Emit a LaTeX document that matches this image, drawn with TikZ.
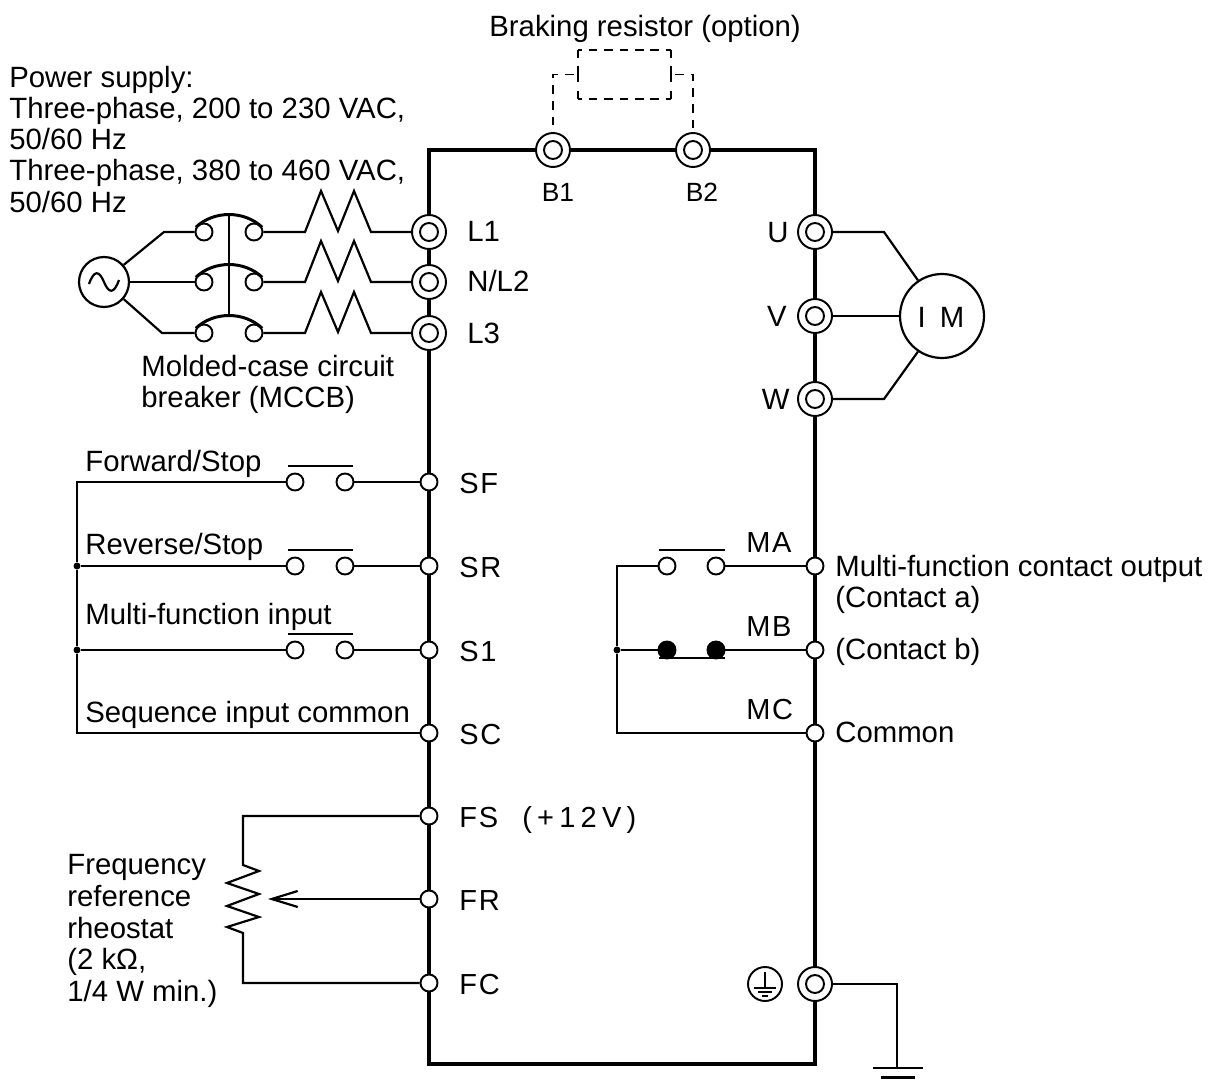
\documentclass[tikz,border=0pt]{standalone}
\usepackage{fontspec}
\setmainfont{Liberation Sans}
\newfontfamily\lblfont[LetterSpace=6]{Liberation Sans}
\newfontfamily\widefont[LetterSpace=18]{Liberation Sans}
\usetikzlibrary{arrows.meta}
\tikzset{
  wire/.style={line width=1.25pt},
  frameline/.style={line width=2.3pt},
  dashwire/.style={line width=1.1pt,dash pattern=on 5pt off 4pt,dash phase=7pt},
  dashtop/.style={line width=1.1pt,dash pattern=on 5pt off 3.78pt,dash phase=2.5pt},
  dashside/.style={line width=1.1pt,dash pattern=on 9pt off 4.9pt,dash phase=4.5pt},
  bigterm/.style={circle,draw,fill=white,line width=1.1pt,minimum size=0.68cm,inner sep=0pt,
    path picture={\draw[line width=1.1pt] (path picture bounding box.center) circle (0.18cm);}},
  smallterm/.style={circle,draw,fill=white,line width=1.1pt,minimum size=0.34cm,inner sep=0pt},
  contact/.style={smallterm},
  closedcontact/.style={smallterm,fill=black},
  junction/.style={circle,fill=black,minimum size=0.14cm,inner sep=0pt},
  txt/.style={inner sep=0pt,align=left,anchor=north west,font=\fontsize{16.7}{17.7}\selectfont},
  tag/.style={inner sep=0pt,anchor=base west,font=\fontsize{16.7}{17.7}\selectfont},
  lbl/.style={inner sep=0pt,anchor=base west,font=\fontsize{16.5}{17.7}\lblfont},
}
\begin{document}
\begin{tikzpicture}[x=0.02cm,y=-0.02cm]
  \useasboundingbox (0,0) rectangle (1213,1081);

  % terminals of the inverter
  \node[bigterm] (B1) at (553,150) {};
  \node[bigterm] (B2) at (693,150) {};
  \node[bigterm] (L1) at (429,232) {};
  \node[bigterm] (L2) at (429,282) {};
  \node[bigterm] (L3) at (429,333) {};
  \node[bigterm] (U) at (815,232) {};
  \node[bigterm] (V) at (815,316) {};
  \node[bigterm] (W) at (815,399) {};
  \node[bigterm] (GND) at (815,984) {};
  \node[smallterm] (SF) at (429,482) {};
  \node[smallterm] (SR) at (429,566) {};
  \node[smallterm] (S1) at (429,650) {};
  \node[smallterm] (SC) at (429,733) {};
  \node[smallterm] (FS) at (429,816) {};
  \node[smallterm] (FR) at (429,899) {};
  \node[smallterm] (FC) at (429,983) {};
  \node[smallterm] (MA) at (815,566) {};
  \node[smallterm] (MB) at (815,650) {};
  \node[smallterm] (MC) at (815,733) {};

  \coordinate (ctl) at (429,150);
  \coordinate (ctr) at (815,150);
  \coordinate (cbl) at (429,1064);
  \coordinate (cbr) at (815,1064);
  \draw[frameline,line join=miter] (L1) -- (ctl) -- (B1);
  \draw[frameline] (B1) -- (B2);
  \draw[frameline] (B2) -- (ctr) -- (U);
  \draw[frameline] (U) -- (V);
  \draw[frameline] (V) -- (W);
  \draw[frameline] (W) -- (MA);
  \draw[frameline] (MA) -- (MB);
  \draw[frameline] (MB) -- (MC);
  \draw[frameline] (MC) -- (GND);
  \draw[frameline] (GND) -- (cbr) -- (cbl) -- (FC);
  \draw[frameline] (FC) -- (FR);
  \draw[frameline] (FR) -- (FS);
  \draw[frameline] (FS) -- (SC);
  \draw[frameline] (SC) -- (S1);
  \draw[frameline] (S1) -- (SR);
  \draw[frameline] (SR) -- (SF);
  \draw[frameline] (SF) -- (L3);
  \draw[frameline] (L3) -- (L2);
  \draw[frameline] (L2) -- (L1);

  % braking resistor
  \node[minimum width=1.86cm,minimum height=0.98cm,inner sep=0pt] (brk) at (624.5,74.5) {};
  \draw[dashtop] (brk.north west) -- (brk.north east);
  \draw[dashtop] (brk.south west) -- (brk.south east);
  \draw[dashside] (brk.north west) -- (brk.south west);
  \draw[dashside] (brk.north east) -- (brk.south east);
  \draw[dashwire] (brk.west) -| (B1.north);
  \draw[dashwire] (brk.east) -| (B2.north);

  % supply and breaker
  \node[circle,draw,wire,minimum size=1cm,inner sep=0pt] (src) at (104,282) {};
  \draw[wire] (src.center) ++(-15,2) .. controls +(5,-14) and +(-5,-12) .. ++(15,-2)
    .. controls +(5,12) and +(-5,14) .. ++(15,-2);
  \node[contact] (m1l) at (204,232) {};
  \node[contact] (m1r) at (254,232) {};
  \node[contact] (m2l) at (204,282) {};
  \node[contact] (m2r) at (254,282) {};
  \node[contact] (m3l) at (204,333) {};
  \node[contact] (m3r) at (254,333) {};
  \coordinate (s1) at (164,232);
  \coordinate (s3) at (162,333);
  \draw[wire] (src.41) -- (s1) -- (m1l);
  \draw[wire] (src) -- (m2l);
  \draw[wire] (src.-41) -- (s3) -- (m3l);
  \draw[wire,line width=1.7pt] (m1l.150) .. controls +(18,-17) and +(-18,-17) .. (m1r.30);
  \draw[wire,line width=1.7pt] (m2l.150) .. controls +(18,-17) and +(-18,-17) .. (m2r.30);
  \draw[wire,line width=1.7pt] (m3l.150) .. controls +(18,-17) and +(-18,-17) .. (m3r.30);
  \draw[wire] (229,215) -- (229,315);
  \draw[wire] (m1r) -- (305,232) -- ++(16,-41) -- ++(17,40) -- ++(16,-40) -- ++(17,41) -- (L1);
  \draw[wire] (m2r) -- (305,282) -- ++(16,-41) -- ++(17,40) -- ++(16,-40) -- ++(17,41) -- (L2);
  \draw[wire] (m3r) -- (305,333) -- ++(16,-41) -- ++(17,40) -- ++(16,-40) -- ++(17,41) -- (L3);

  % motor
  \node[circle,draw,wire,minimum size=1.68cm,inner sep=0pt] (mot) at (942,316) {};
  \coordinate (mu) at (884,232);
  \coordinate (mw) at (884,399);
  \draw[wire] (U) -- (mu) -- (mot.124);
  \draw[wire] (V) -- (mot);
  \draw[wire] (W) -- (mw) -- (mot.-124);

  % sequence inputs
  \node[contact] (f1) at (295,482) {};
  \node[contact] (f2) at (345,482) {};
  \node[contact] (r1) at (295,566) {};
  \node[contact] (r2) at (345,566) {};
  \node[contact] (i1) at (295,650) {};
  \node[contact] (i2) at (345,650) {};
  \node[junction] (jr) at (77,566) {};
  \node[junction] (ji) at (77,650) {};
  \coordinate (ct) at (77,482);
  \coordinate (cb) at (77,733);
  \draw[wire] (f1) -- (ct) -- (jr) -- (ji) -- (cb) -- (SC);
  \draw[wire] (jr) -- (r1);
  \draw[wire] (ji) -- (i1);
  \draw[wire] (f2) -- (SF);
  \draw[wire] (r2) -- (SR);
  \draw[wire] (i2) -- (S1);
  \draw[wire] (288,466) -- (353,466);
  \draw[wire] (288,550) -- (353,550);
  \draw[wire] (288,634) -- (353,634);

  % contact outputs
  \node[contact] (a1) at (667,566) {};
  \node[contact] (a2) at (716,566) {};
  \node[closedcontact] (b1) at (667,650) {};
  \node[closedcontact] (b2) at (716,650) {};
  \node[junction] (jb) at (617,650) {};
  \coordinate (ot) at (617,566);
  \coordinate (ob) at (617,733);
  \draw[wire] (a1) -- (ot) -- (jb) -- (ob) -- (MC);
  \draw[wire] (jb) -- (b1);
  \draw[wire] (a2) -- (MA);
  \draw[wire] (b2) -- (MB);
  \draw[wire] (659,550) -- (725,550);
  \draw[wire] (659,658) -- (725,658);

  % rheostat
  \coordinate (rt) at (243,816);
  \coordinate (rb) at (243,983);
  \coordinate (rw) at (268,899);
  \draw[wire] (FS) -- (rt) -- (243,865) -- (259,871) -- (227,883) -- (259,894) -- (227,906)
    -- (259,917) -- (227,927) -- (243,933) -- (rb) -- (FC);
  \draw[wire,-{Straight Barb[length=0.52cm,width=0.32cm]}] (FR) -- (rw);

  % earth
  \node[circle,draw,line width=1.1pt,minimum size=0.68cm,inner sep=0pt] (pe) at (765,984) {};
  \draw[line width=0.9pt] (765,972) -- (765,988);
  \draw[line width=0.9pt] (754,988) -- (776,988);
  \draw[line width=0.9pt] (758,992) -- (772,992);
  \draw[line width=0.9pt] (762,996) -- (768,996);
  \coordinate (ge) at (897,984);
  \coordinate (gb) at (897,1068);
  \draw[wire] (GND) -- (ge) -- (gb);
  \draw[wire] (873,1068) -- (923,1068);
  \draw[wire,line width=1.7pt] (881,1077) -- (915,1077);

  % texts
  \node[txt] (tbrk) at (489,15) {Braking resistor (option)};
  \node[txt] (tpow) at (9,66) {Power supply:\\Three-phase, 200 to 230 VAC,\\50/60 Hz\\Three-phase, 380 to 460 VAC,\\50/60 Hz};
  \node[txt] (tmccb) at (141,355) {Molded-case circuit\\breaker (MCCB)};
  \node[txt,font=\fontsize{16.7}{18.1}\selectfont] (tfreq) at (67,854) {Frequency\\reference\\rheostat\\(2 kΩ,\\1/4 W min.)};
  \node[txt] (tout) at (835,555) {Multi-function contact output\\(Contact a)};
  \node[txt] (tb) at (835,638) {(Contact b)};
  \node[txt] (tcom) at (835,722) {Common};
  \node[tag] (tfwd) at (85,471) {Forward/Stop};
  \node[tag] (trev) at (85,554) {Reverse/Stop};
  \node[tag] (tinp) at (85,624) {Multi-function input};
  \node[tag] (tseq) at (85,722) {Sequence input common};
  \node[tag] (tl1) at (467,241) {L1};
  \node[tag] (tl2) at (467,291) {N/L2};
  \node[tag] (tl3) at (467,343) {L3};
  \node[tag,anchor=base east] (tu) at (789,242) {U};
  \node[tag,anchor=base east] (tv) at (787,326) {V};
  \node[tag,anchor=base east] (tw) at (790,409) {W};
  \node[tag,anchor=base] (tmot) at (941,327) {I\hspace{8pt}M};
  \node[lbl,anchor=base,font=\fontsize{15}{17.7}\selectfont] (tb1) at (558,202) {B1};
  \node[lbl,anchor=base,font=\fontsize{15}{17.7}\selectfont] (tb2) at (702,202) {B2};
  \node[lbl] (tsf) at (459,493) {SF};
  \node[lbl] (tsr) at (459,577) {SR};
  \node[lbl] (ts1) at (459,661) {S1};
  \node[lbl] (tsc) at (459,744) {SC};
  \node[lbl] (tfs) at (459,827) {FS};
  \node[lbl] (tfr) at (459,910) {FR};
  \node[lbl] (tfc) at (459,994) {FC};
  \node[lbl,font=\fontsize{16.5}{17.7}\widefont] (tv12) at (522,827) {(+12V)};
  \node[lbl] (tma) at (746,552) {MA};
  \node[lbl] (tmb) at (746,636) {MB};
  \node[lbl] (tmc) at (746,719) {MC};
\end{tikzpicture}
\end{document}
